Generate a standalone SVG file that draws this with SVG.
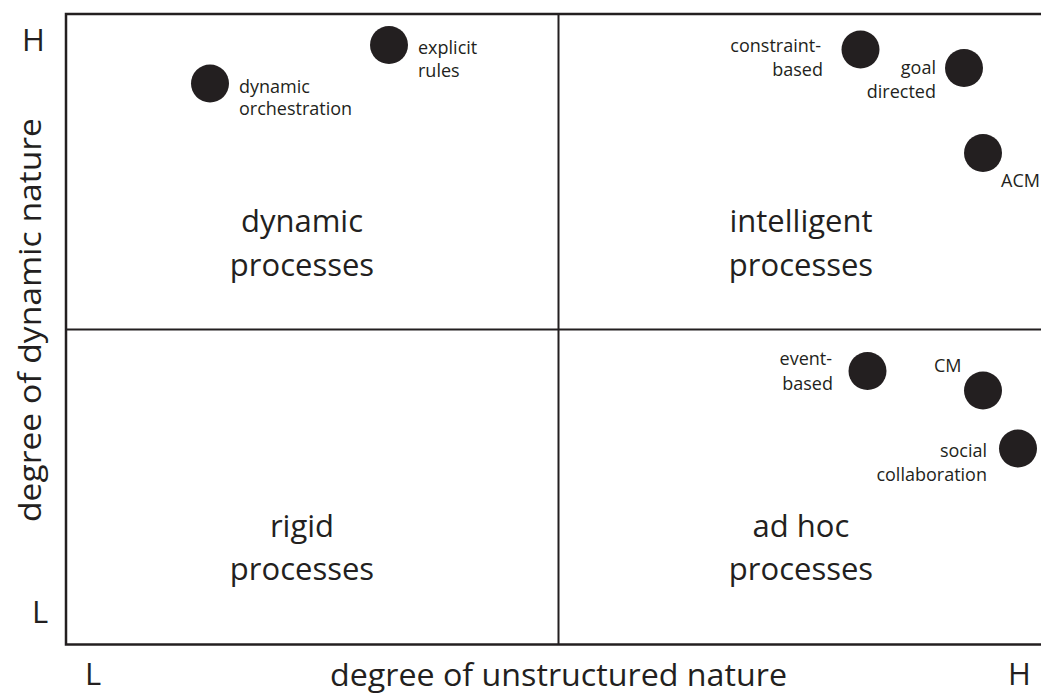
<svg xmlns="http://www.w3.org/2000/svg" width="1041" height="693" viewBox="0 0 1041 693">
  <style>
    .frame { fill: none; stroke: #231f20; stroke-width: 2.5; }
    .divider { stroke: #231f20; stroke-width: 2; }
    .dot { fill: #231f20; }
    .small { font-family: "Open Sans", "Liberation Sans", sans-serif; font-size: 18px; fill: #231f20; }
    .quad { font-family: "Open Sans", "Liberation Sans", sans-serif; font-size: 31px; fill: #231f20; text-anchor: middle; }
    .axis { font-family: "Open Sans", "Liberation Sans", sans-serif; font-size: 31px; fill: #231f20; }
    .end { text-anchor: end; }
  </style>
  <rect width="1041" height="693" fill="#ffffff"/>

  <!-- quadrant grid -->
  <g id="grid">
    <rect class="frame" x="66" y="14" width="1000" height="630.5"/>
    <line class="divider" x1="558.5" y1="14" x2="558.5" y2="644.5"/>
    <line class="divider" x1="66" y1="329.5" x2="1045" y2="329.5"/>
  </g>

  <!-- axis labels -->
  <g id="axes">
    <text class="axis" x="22" y="51">H</text>
    <text class="axis" x="32" y="623">L</text>
    <text class="axis" x="85" y="685">L</text>
    <text class="axis" x="1008" y="685">H</text>
    <text class="axis" x="330" y="686" textLength="457" lengthAdjust="spacingAndGlyphs">degree of unstructured nature</text>
    <text class="axis" transform="translate(41 522) rotate(-90)" x="0" y="0" textLength="404" lengthAdjust="spacingAndGlyphs">degree of dynamic nature</text>
  </g>

  <!-- quadrant titles -->
  <g id="quadrant-dynamic">
    <text class="quad" x="302" y="232">dynamic</text>
    <text class="quad" x="302" y="276">processes</text>
  </g>
  <g id="quadrant-intelligent">
    <text class="quad" x="801" y="232">intelligent</text>
    <text class="quad" x="801" y="276">processes</text>
  </g>
  <g id="quadrant-rigid">
    <text class="quad" x="302" y="537">rigid</text>
    <text class="quad" x="302" y="580">processes</text>
  </g>
  <g id="quadrant-adhoc">
    <text class="quad" x="801" y="537">ad hoc</text>
    <text class="quad" x="801" y="580">processes</text>
  </g>

  <!-- approaches plotted in the grid -->
  <g id="dynamic-orchestration">
    <circle class="dot" cx="210" cy="83.5" r="19"/>
    <text class="small" x="239" y="93">dynamic</text>
    <text class="small" x="239" y="115">orchestration</text>
  </g>
  <g id="explicit-rules">
    <circle class="dot" cx="389" cy="45" r="19"/>
    <text class="small" x="418" y="54">explicit</text>
    <text class="small" x="418" y="77">rules</text>
  </g>
  <g id="constraint-based">
    <circle class="dot" cx="860.5" cy="49.5" r="19"/>
    <text class="small end" x="821" y="52">constraint-</text>
    <text class="small end" x="823" y="76">based</text>
  </g>
  <g id="goal-directed">
    <circle class="dot" cx="964" cy="68" r="19"/>
    <text class="small end" x="936" y="73.5">goal</text>
    <text class="small end" x="936" y="98">directed</text>
  </g>
  <g id="acm">
    <circle class="dot" cx="983" cy="153" r="19"/>
    <text class="small" x="1001" y="186.5">ACM</text>
  </g>
  <g id="event-based">
    <circle class="dot" cx="867.5" cy="371" r="19"/>
    <text class="small end" x="832" y="365">event-</text>
    <text class="small end" x="833" y="390">based</text>
  </g>
  <g id="cm">
    <circle class="dot" cx="983" cy="390.5" r="19"/>
    <text class="small" x="934" y="371.5">CM</text>
  </g>
  <g id="social-collaboration">
    <circle class="dot" cx="1018" cy="448.5" r="19"/>
    <text class="small end" x="987" y="456.5">social</text>
    <text class="small end" x="987" y="480.5">collaboration</text>
  </g>
</svg>
